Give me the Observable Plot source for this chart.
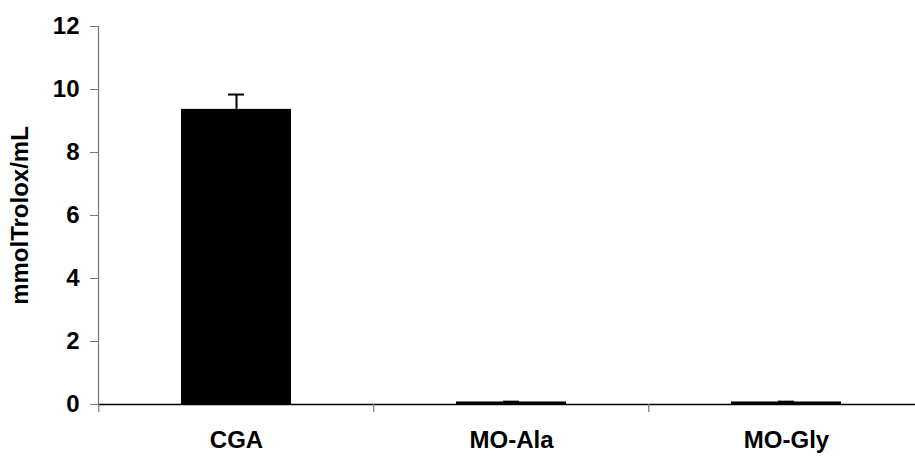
<!DOCTYPE html>
<html>
<head>
<meta charset="utf-8">
<script src="https://cdn.jsdelivr.net/npm/d3@7"></script>
<script src="https://cdn.jsdelivr.net/npm/@observablehq/plot@0.6"></script>
<style>
  html, body { margin: 0; padding: 0; background: #fff; overflow: hidden; }
</style>
</head>
<body>
<div id="chart"></div>
<script>
const categories = ["CGA", "MO-Ala", "MO-Gly"];
const values = [9.37, 0.08, 0.08];
const errors = [0.47, 0.01, 0.01];
const yTicks = [0, 2, 4, 6, 8, 10, 12];
const yLabel = "mmolTrolox/mL";

const data = categories.map((c, i) => ({cat: c, value: values[i], err: errors[i], top: values[i] + errors[i]}));

const W = 915, H = 457;
const mL = 98, mR = -9.5, mT = 26, mB = 53;
const step = (W - mL - mR) / categories.length;

const chart = Plot.plot({
  width: W,
  height: H,
  marginLeft: mL,
  marginRight: mR,
  marginTop: mT,
  marginBottom: mB,
  style: {fontFamily: "'Liberation Sans', Arial, sans-serif", background: "#fff", overflow: "visible"},
  x: {domain: categories, paddingInner: 0.6, paddingOuter: 0.3, label: null},
  y: {domain: [0, 12], label: null},
  marks: [
    Plot.barY(data, {x: "cat", y: "value", fill: "#000"}),
    Plot.ruleX(data, {x: "cat", y1: "value", y2: "top", stroke: "#000", strokeWidth: 2}),
    Plot.tickY(data, {x: "cat", y: "top", stroke: "#000", strokeWidth: 2, insetLeft: 47, insetRight: 47}),
    Plot.frame({anchor: "left", stroke: "#777", strokeWidth: 1.2}),
    Plot.ruleY([0], {stroke: "#000", strokeWidth: 1.5}),
    Plot.axisY({ticks: yTicks, tickSize: 8, tickPadding: 11, stroke: "#777", fill: "#000", fontSize: 24, fontWeight: "bold",
      label: yLabel, labelAnchor: "center", labelArrow: "none", labelOffset: 88}),
    Plot.axisX({tickSize: 0, tickPadding: 26, fill: "#000", fontSize: 24, fontWeight: "bold", label: null}),
    Plot.ruleX(categories, {x: d => d, y1: () => 0, y2: () => 0, dx: -step / 2, insetTop: 8, stroke: "#777", strokeWidth: 1.2})
  ]
});

chart.querySelectorAll("text").forEach(t => {
  t.style.setProperty("font-size", "24px", "important");
  t.style.setProperty("font-weight", "bold", "important");
  t.style.setProperty("font-family", "'Liberation Sans', Arial, sans-serif", "important");
});
document.getElementById("chart").appendChild(chart);
</script>
</body>
</html>
